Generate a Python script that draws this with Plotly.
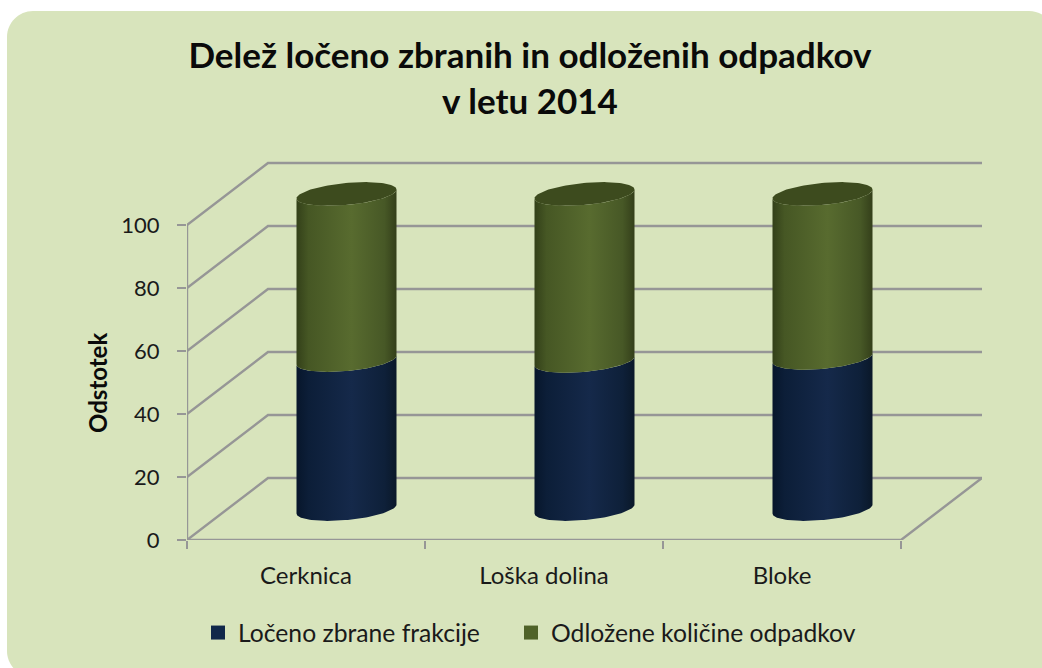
import numpy as np
import plotly.graph_objects as go

categories = ["Cerknica", "Loška dolina", "Bloke"]
series_names = ["Ločeno zbrane frakcije", "Odložene količine odpadkov"]
locene = [47.3, 47.0, 48.0]
odlozene = [52.7, 53.0, 52.0]
y_ticks = [0, 20, 40, 60, 80, 100]
title_text = "Delež ločeno zbranih in odloženih odpadkov<br>v letu 2014"
y_title = "Odstotek"

# canvas geometry
W, H = 1042, 668
L, R, T, B = 187, 982, 155, 540
X_UNIT = 238.0
Y_UNIT = 3.15
x_range = [-0.5, -0.5 + (R - L) / X_UNIT]
y_range = [0, (B - T) / Y_UNIT]
BACK_X, BACK_Y = 81 / X_UNIT, 62 / Y_UNIT
CYL_HALF = 50 / X_UNIT
TILT = 4.5 / Y_UNIT
MINOR = 11 / Y_UNIT
GRID = "#969696"
BG = "#D8E4BC"
FONT = "Lato"
TEXT = "#1a1a1a"


def px(x, y):
    return (x - L) / (R - L), (B - y) / (B - T)


def rounded(x0, y0, x1, y1, r):
    k = r * 0.45
    pts = [("M", [(x0 + r, y0)]), ("L", [(x1 - r, y0)]),
           ("C", [(x1 - k, y0), (x1, y0 + k), (x1, y0 + r)]), ("L", [(x1, y1 - r)]),
           ("C", [(x1, y1 - k), (x1 - k, y1), (x1 - r, y1)]), ("L", [(x0 + r, y1)]),
           ("C", [(x0 + k, y1), (x0, y1 - k), (x0, y1 - r)]), ("L", [(x0, y0 + r)]),
           ("C", [(x0, y0 + k), (x0 + k, y0), (x0 + r, y0)])]
    out = ""
    for c, ps in pts:
        out += c + " ".join("%.5f,%.5f" % px(*p) for p in ps) + " "
    return out + "Z"


fig = go.Figure()


def line(xs, ys):
    fig.add_trace(go.Scatter(x=xs, y=ys, mode="lines", showlegend=False, hoverinfo="skip",
                             line=dict(color=GRID, width=2.4), cliponaxis=False))


x0 = x_range[0]
for v in y_ticks:
    line([x0, x0 + BACK_X, x_range[1]], [v, v + BACK_Y, v + BACK_Y])
line([x0, x0], [0, y_ticks[-1]])
line([x0, len(categories) - 0.5, x_range[1]], [0, 0, BACK_Y])


def lower_arc(cx, v):
    t = np.linspace(np.pi, 2 * np.pi, 60)
    return cx + CYL_HALF * np.cos(t), v + BACK_Y / 2 + TILT * np.cos(t) + MINOR * np.sin(t)


def body(cx, v0, v1, scale):
    xa, ya = lower_arc(cx, v0)
    xb, yb = lower_arc(cx, v1)
    fig.add_trace(go.Scatter(
        x=np.r_[xa, xb[::-1]], y=np.r_[ya, yb[::-1]], mode="lines", fill="toself",
        line=dict(width=0), showlegend=False, hoverinfo="skip",
        fillgradient=dict(type="horizontal", colorscale=scale)))


blue_scale = [[0, "#07162b"], [0.12, "#0c1e38"], [0.55, "#15294a"], [0.88, "#0e2039"], [1, "#0a1829"]]
green_scale = [[0, "#334019"], [0.12, "#465724"], [0.55, "#586b2f"], [0.88, "#475826"], [1, "#343f1a"]]
for i, (a, b) in enumerate(zip(locene, odlozene)):
    cx = i + BACK_X / 2
    body(cx, 0, a, blue_scale)
    body(cx, a, a + b, green_scale)
    t = np.linspace(0, 2 * np.pi, 120)
    fig.add_trace(go.Scatter(
        x=cx + CYL_HALF * np.cos(t),
        y=a + b + BACK_Y / 2 + TILT * np.cos(t) + MINOR * np.sin(t),
        mode="lines", fill="toself", fillcolor="#3D4B1E", line=dict(width=0),
        showlegend=False, hoverinfo="skip"))

for name, color, lg in zip(series_names, ["#10284A", "#4F6228"], ["legend", "legend2"]):
    fig.add_trace(go.Scatter(x=[None], y=[None], mode="markers", name=name, legend=lg,
                             marker=dict(symbol="square", size=14, color=color)))


def legend_at(x_px):
    return dict(orientation="h", x=(x_px - L) / (R - L), xanchor="left",
                y=-(610 - B) / (B - T), yanchor="top", bgcolor="rgba(0,0,0,0)",
                font=dict(size=24.7, color=TEXT), itemclick=False, itemdoubleclick=False)


fig.update_layout(
    width=W, height=H,
    margin=dict(l=L, r=W - R, t=T, b=H - B, pad=0, autoexpand=False),
    paper_bgcolor="white", plot_bgcolor="rgba(0,0,0,0)",
    font=dict(family=FONT, color=TEXT, size=22),
    title=dict(text=title_text, x=530 / W, xanchor="center", y=1 - 68 / H, yanchor="top",
               font=dict(family=FONT, size=35, color="#0a0a0a", weight="bold")),
    xaxis=dict(range=x_range, tickmode="array", tickvals=list(range(len(categories))),
               ticktext=categories, showgrid=False, zeroline=False, showline=False,
               ticks="", ticklabelstandoff=19, tickfont=dict(size=24, color=TEXT),
               minor=dict(tickmode="array", tickvals=[-0.5, 0.5, 1.5, 2.5], ticks="outside",
                          ticklen=8, tickwidth=2, tickcolor=GRID, showgrid=False)),
    yaxis=dict(range=y_range, tickmode="array", tickvals=y_ticks, showgrid=False,
               zeroline=False, showline=False, ticks="outside", ticklen=9, tickwidth=2,
               tickcolor=GRID, tickfont=dict(size=22, color=TEXT), ticklabelstandoff=13),
    annotations=[dict(text=y_title, textangle=-90, xref="paper", yref="paper",
                      x=px(97, 383)[0], y=px(97, 383)[1], showarrow=False,
                      xanchor="center", yanchor="middle",
                      font=dict(family=FONT, size=24, color="#0a0a0a", weight="bold"))],
    legend=legend_at(198),
    legend2=legend_at(511),
    shapes=[dict(type="path", xref="paper", yref="paper", layer="below", line_width=0,
                 fillcolor=BG, path=rounded(7, 11, 1055, 677, 26))],
)

fig.write_html("out.html", config=dict(displayModeBar=False),
               post_script="document.body.style.margin='0';document.body.style.overflow='hidden';")
